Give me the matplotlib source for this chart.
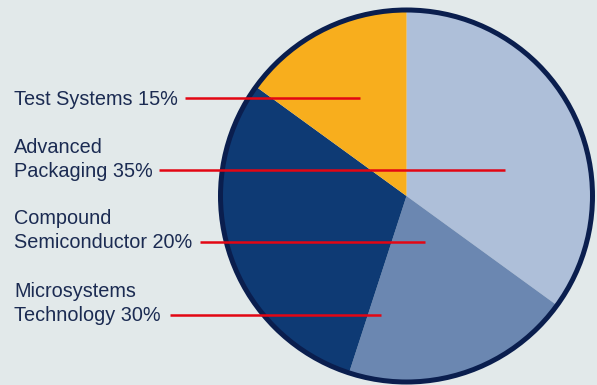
import matplotlib.pyplot as plt
from matplotlib.patches import Circle

# slices, clockwise from 12 o'clock
names = ['Advanced Packaging', 'Compound Semiconductor', 'Microsystems Technology', 'Test Systems']
shares = [35, 20, 30, 15]
colors = ['#aebfd9', '#6b87b1', '#0e3a74', '#f8ae1d']

# left-hand labels, top to bottom
labels = ['Test Systems 15%',
          'Advanced\nPackaging 35%',
          'Compound\nSemiconductor 20%',
          'Microsystems\nTechnology 30%']

W, H = 597, 385
fig = plt.figure(figsize=(W / 100, H / 100), dpi=100, facecolor='#e2e9ea')
ax = fig.add_axes([0, 0, 1, 1])

cx, cy, R = 406.5, H - 196, 186
ax.pie(shares, colors=colors, startangle=90, counterclock=False,
       center=(cx, cy), radius=R, frame=True,
       wedgeprops=dict(linewidth=0))
ax.set_xlim(0, W)
ax.set_ylim(0, H)
ax.set_aspect('equal')
ax.axis('off')
ax.add_patch(Circle((cx, cy), R, fill=False, edgecolor='#0a1e4e', linewidth=3.6, zorder=5))

# label layout (pixel coords from top): baseline of last line, leader line y, x start, x end
layout = [(105, 98, 185, 360),
          (177, 170, 159, 505),
          (248, 242, 200, 425),
          (321, 315, 170, 381)]
for text, (base, ly, x0, x1) in zip(labels, layout):
    lines = text.split('\n')
    for k, line in enumerate(reversed(lines)):
        ax.text(14, H - base + k * 24, line, fontsize=14.3, color='#1b2b52',
                family='Liberation Sans', ha='left', va='baseline')
    ax.plot([x0, x1], [H - ly, H - ly], color='#e30613', linewidth=1.8,
            solid_capstyle='butt', zorder=6)

fig.savefig('out.png', dpi=100, facecolor=fig.get_facecolor())
